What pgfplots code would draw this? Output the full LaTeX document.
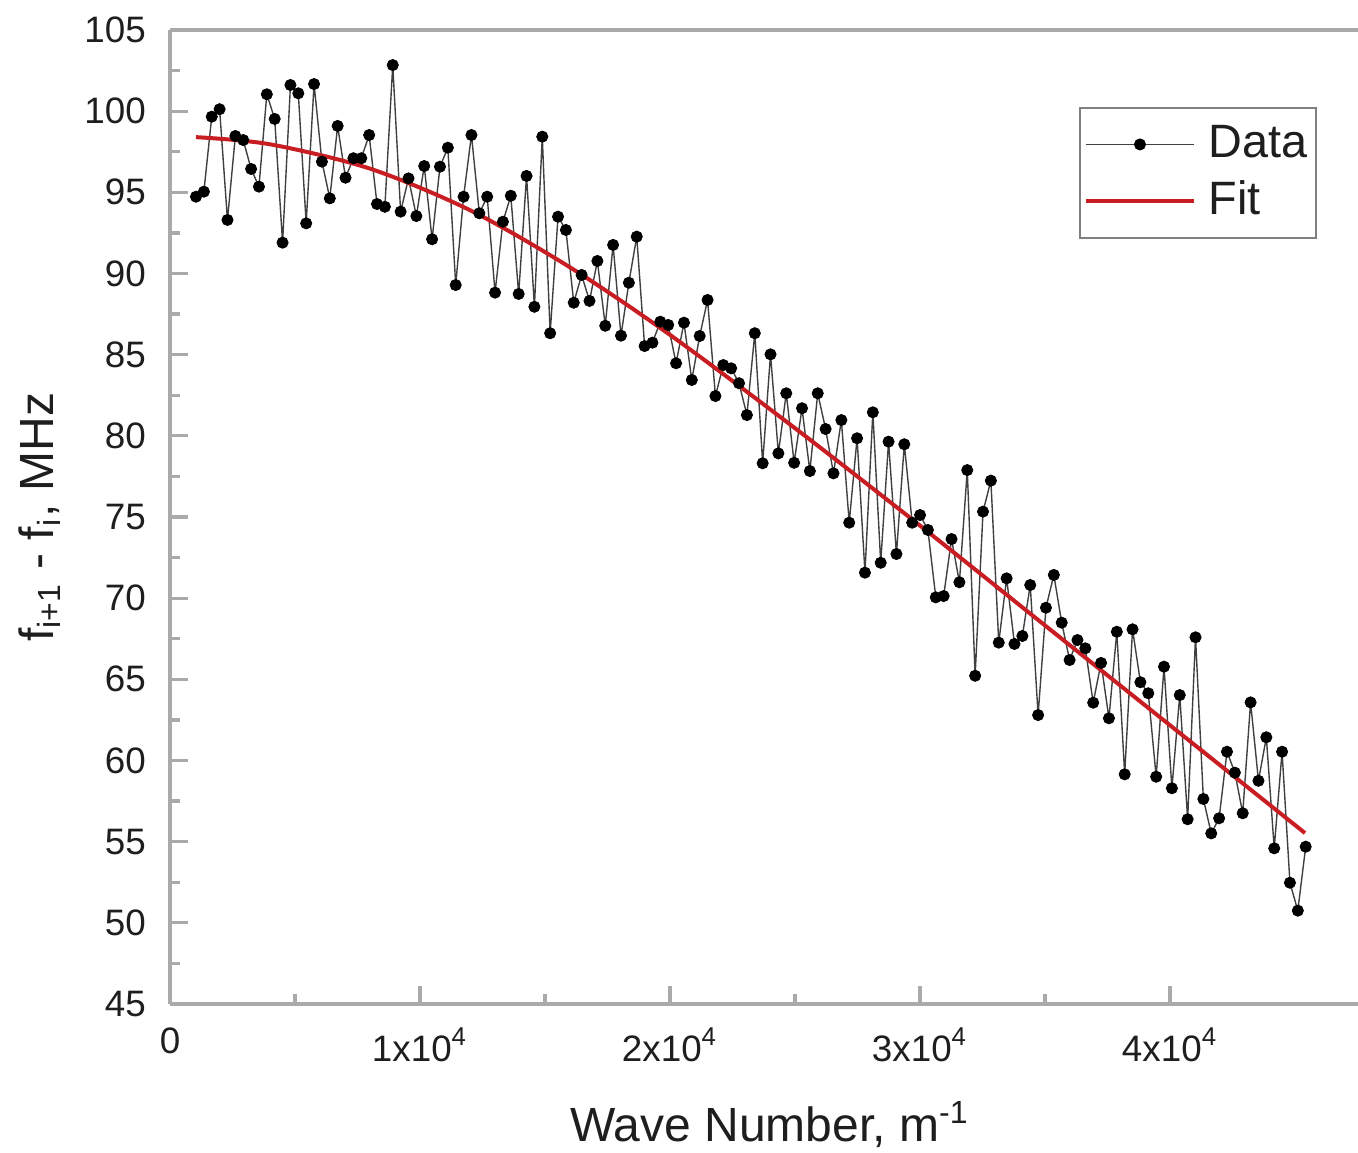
\documentclass[border=0pt]{standalone}
\usepackage{fontspec}
\setmainfont{Liberation Sans}
\usepackage{pgfplots}
\pgfplotsset{compat=1.18}
\usepackage{pgfplotstable}
\definecolor{axgray}{RGB}{170,170,170}
\definecolor{fitred}{RGB}{200,30,35}
\definecolor{txt}{RGB}{30,30,30}
\pgfplotstableread{
x y
1040 94.73
1355 95.04
1670 99.66
1984 100.12
2299 93.30
2614 98.47
2929 98.22
3244 96.44
3558 95.35
3873 101.04
4188 99.52
4503 91.90
4818 101.61
5132 101.10
5447 93.09
5762 101.67
6077 96.89
6392 94.63
6706 99.09
7021 95.90
7336 97.10
7651 97.10
7966 98.53
8280 94.28
8595 94.11
8910 102.84
9225 93.81
9540 95.86
9854 93.54
10169 96.62
10484 92.11
10799 96.58
11114 97.75
11428 89.29
11743 94.73
12058 98.53
12373 93.71
12688 94.73
13002 88.82
13317 93.19
13632 94.79
13947 88.74
14262 96.01
14576 87.95
14891 98.43
15206 86.32
15521 93.50
15836 92.68
16150 88.20
16465 89.91
16780 88.31
17095 90.77
17410 86.78
17724 91.76
18039 86.17
18354 89.43
18669 92.27
18984 85.53
19298 85.74
19613 87.03
19928 86.83
20243 84.47
20558 86.97
20872 83.44
21187 86.15
21502 88.37
21817 82.45
22132 84.36
22446 84.16
22761 83.24
23076 81.28
23391 86.32
23706 78.31
24020 85.02
24335 78.92
24650 82.62
24965 78.34
25280 81.70
25594 77.83
25909 82.62
26224 80.42
26539 77.69
26854 80.97
27168 74.65
27483 79.85
27798 71.57
28113 81.45
28428 72.18
28742 79.64
29057 72.72
29372 79.48
29687 74.65
30002 75.12
30316 74.20
30631 70.05
30946 70.13
31261 73.64
31576 70.98
31890 77.89
32205 65.22
32520 75.33
32835 77.24
33150 67.26
33464 71.22
33779 67.18
34094 67.67
34409 70.81
34724 62.80
35038 69.41
35353 71.43
35668 68.49
35983 66.19
36298 67.42
36612 66.91
36927 63.56
37242 66.01
37557 62.60
37872 67.93
38186 59.15
38501 68.08
38816 64.82
39131 64.14
39446 59.00
39760 65.78
40075 58.29
40390 64.03
40705 56.38
41020 67.59
41334 57.63
41649 55.51
41964 56.44
42279 60.54
42594 59.25
42908 56.75
43223 63.58
43538 58.75
43853 61.43
44168 54.59
44482 60.54
44797 52.47
45112 50.75
45427 54.69
}\datatable
\pgfplotstableread{
x y
1040 98.40
4000 97.96
8000 96.46
12000 93.90
16000 90.38
20000 86.22
25000 80.47
30000 74.47
35000 68.32
40000 62.17
45400 55.53
}\fittable
\begin{document}
\begin{tikzpicture}
\begin{axis}[
  scale only axis,
  width=297pt, height=243.5pt,
  xmin=0, xmax=47520, ymin=45, ymax=105,
  axis x line*=box, axis y line*=left,
  xtick pos=bottom, ytick pos=left,
  axis line style={axgray, line width=0.8pt},
  every tick/.style={axgray, line width=0.8pt},
  tick align=inside,
  major tick length=4.5pt, minor tick length=2.5pt,
  xtick={0,10000,20000,30000,40000},
  xticklabels={0,1x10\textsuperscript{4},2x10\textsuperscript{4},3x10\textsuperscript{4},4x10\textsuperscript{4}},
  minor x tick num=1,
  ytick={45,50,...,105},
  minor y tick num=1,
  scaled x ticks=false,
  /pgf/number format/assume math mode=true,
  ticklabel style={font=\fontsize{9.2}{11}\selectfont, text=txt},
  yticklabel style={xshift=-2.5pt},
  xticklabel style={yshift=-2.5pt},
  xlabel={Wave Number, m\textsuperscript{-1}},
  ylabel={f\textsubscript{i+1} - f\textsubscript{i}, MHz},
  label style={font=\fontsize{12}{14}\selectfont, text=txt},
  xlabel style={at={(axis description cs:0.505,-0.124)}, anchor=center},
  ylabel style={at={(axis description cs:-0.1094,0.5)}, anchor=center},
  legend style={at={(axis description cs:0.9655,0.921)}, anchor=north east,
    draw=gray, line width=0.6pt, font=\fontsize{11.7}{13}\selectfont, text=txt,
    inner xsep=1pt, inner ysep=2.3pt, row sep=0.3pt,
    nodes={inner xsep=1pt}},
  legend cell align=left,
  legend image code/.code={\draw[mark repeat=2,mark phase=2,#1] plot coordinates {(0pt,0pt) (13.5pt,0pt) (27pt,0pt)}; \path (29.25pt,0pt);},
]
\addplot[color=black!75, line width=0.35pt, mark=*, mark size=1.4pt, mark options={fill=black, draw=black, line width=0.2pt}] table[x=x,y=y] {\datatable};
\addlegendentry{Data}
\addplot[color=fitred, line width=1.0pt, smooth, tension=0.5] table[x=x,y=y] {\fittable};
\addlegendentry{Fit}
\end{axis}
\pgfresetboundingbox
\path[use as bounding box] (-42.5pt,-37.25pt) rectangle (297pt,251pt);
\end{tikzpicture}
\end{document}
